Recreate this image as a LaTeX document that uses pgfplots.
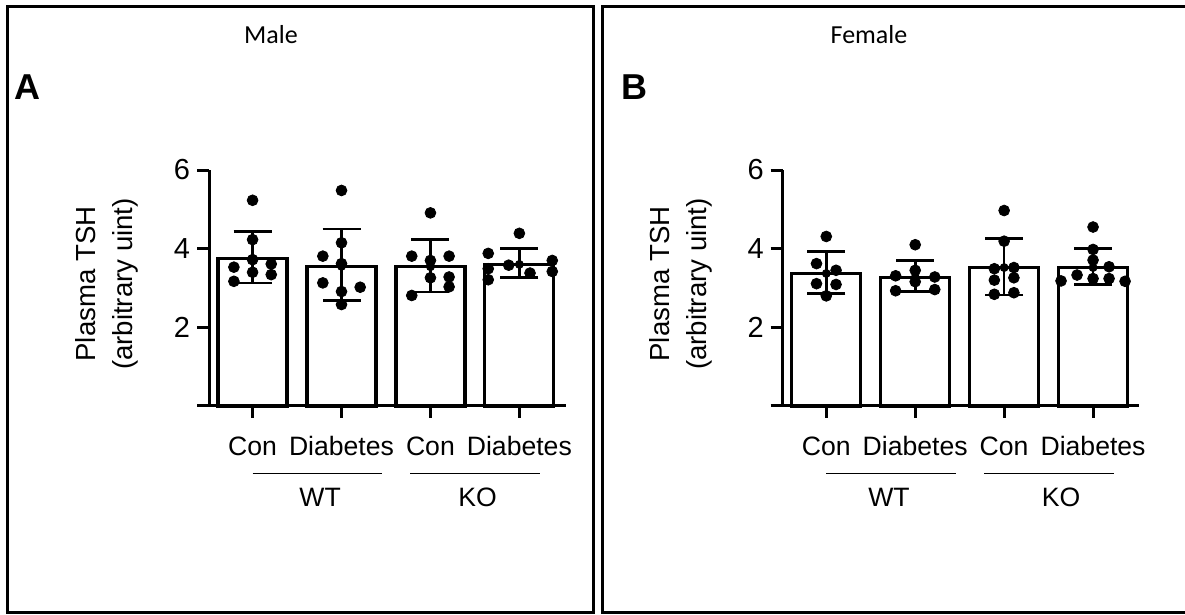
\documentclass[border=0pt]{standalone}
\usepackage{pgfplots}
\pgfplotsset{compat=1.18}
\usepackage{fontspec}
\setmainfont{Liberation Sans}
\newfontfamily\carlito{Carlito}
\begin{document}
\begin{tikzpicture}
\useasboundingbox (0,0) rectangle (592.5pt,307.5pt);
\pgfplotsset{
  tshaxis/.style={
    scale only axis, width=178.3pt, height=118pt,
    anchor=south west,
    xmin=-0.49, xmax=3.52, ymin=0, ymax=6,
    axis x line*=bottom, axis y line*=left,
    axis line style={line width=1.5pt, black},
    tick align=outside,
    major tick length=6pt,
    tick style={black, line width=1.5pt},
    ytick={0,2,4,6}, yticklabels={,2,4,6},
    xtick={0,1,2,3}, xticklabels={Con,Diabetes,Con,Diabetes},
    xticklabel style={font=\fontsize{13.3}{15}\selectfont, yshift=-5.5pt, text height=9.7pt, text depth=0pt},
    yticklabel style={font=\fontsize{14.5}{16}\selectfont},
    /pgf/number format/assume math mode=true,
    clip=false,
  },
  barst/.style={ybar, bar width=34.5pt, draw=black, fill=white, line width=1.6pt},
  errst/.style={only marks, mark=none, black,
    error bars/.cd, y dir=both, y explicit,
    error bar style={line width=1.3pt, black},
    error mark options={rotate=90, line width=1.3pt, mark size=9.5pt, black}},
  dotst/.style={only marks, mark=*, mark size=2.7pt, black},
}
% frames
\draw[line width=1.5pt] (3.75pt,1.25pt) rectangle (296.5pt,304pt);
\draw[line width=1.5pt] (301pt,1.25pt) rectangle (600pt,304pt);
\node[font=\carlito\fontsize{13}{15}\selectfont] at (135.5pt,290pt) {Male};
\node[font=\carlito\fontsize{13}{15}\selectfont] at (434.5pt,290pt) {Female};
\node[font=\bfseries\fontsize{18}{20}\selectfont, inner sep=0] at (13.75pt,263.75pt) {A};
\node[font=\bfseries\fontsize{18}{20}\selectfont, inner sep=0] at (317pt,263.75pt) {B};

% Panel A
\begin{axis}[tshaxis, at={(104.5pt,104.5pt)}]
\addplot[barst] coordinates {(0,3.75) (1,3.55) (2,3.54) (3,3.60)};
\addplot[errst] coordinates {
 (0,3.75) += (0,0.69) -= (0,0.62)
 (1,3.55) += (0,0.95) -= (0,0.87)
 (2,3.54) += (0,0.69) -= (0,0.64)
 (3,3.60) += (0,0.40) -= (0,0.33)};
\addplot[dotst] coordinates {
 (0,5.23) (0,4.23) (0,3.72) (-0.21,3.53) (0.21,3.61) (0,3.40) (0.21,3.34) (-0.21,3.17)
 (1,5.48) (1,4.15) (0.79,3.81) (1,3.62) (0.79,3.13) (1.21,3.02) (1,2.91) (1,2.58)
 (2,4.91) (1.79,3.81) (2.21,3.81) (2,3.70) (2,3.26) (2.21,3.28) (2.21,3.03) (1.79,2.81)
 (3,4.39) (2.65,3.88) (2.88,3.58) (3.37,3.70) (2.65,3.49) (3.12,3.38) (3.37,3.42) (2.65,3.21)};
\draw[line width=0.6pt] (axis cs:0,-1.71) -- (axis cs:1.456,-1.71);
\draw[line width=0.6pt] (axis cs:1.774,-1.71) -- (axis cs:3.236,-1.71);
\node[inner sep=0, font=\fontsize{13.3}{15}\selectfont] at (axis cs:0.76,-2.33) {WT};
\node[inner sep=0, font=\fontsize{13.3}{15}\selectfont] at (axis cs:2.53,-2.33) {KO};
\node[rotate=90, align=center, inner sep=0, font=\fontsize{13.8}{16}\selectfont] at ([xshift=-51pt,yshift=2pt]rel axis cs:0,0.5) {Plasma TSH\\[2.5pt](arbitrary uint)};
\end{axis}

% Panel B
\begin{axis}[tshaxis, at={(391.35pt,104.5pt)}]
\addplot[barst] coordinates {(0,3.37) (1,3.27) (2,3.52) (3,3.52)};
\addplot[errst] coordinates {
 (0,3.37) += (0,0.56) -= (0,0.51)
 (1,3.27) += (0,0.43) -= (0,0.36)
 (2,3.52) += (0,0.74) -= (0,0.70)
 (3,3.52) += (0,0.49) -= (0,0.43)};
\addplot[dotst] coordinates {
 (0,4.31) (-0.11,3.62) (0.11,3.45) (-0.11,3.11) (0.11,3.09) (0,2.80)
 (1,4.10) (1,3.45) (0.78,3.31) (1.22,3.28) (1,3.16) (0.78,2.93) (1.22,2.96)
 (2,4.97) (2,4.19) (1.89,3.49) (2.11,3.52) (1.89,3.20) (2.11,3.26) (1.89,2.84) (2.11,2.88)
 (3,4.55) (3,3.98) (3,3.71) (3.18,3.54) (2.82,3.33) (3,3.24) (3.18,3.24) (2.64,3.18) (3.36,3.17)};
\draw[line width=0.6pt] (axis cs:0,-1.71) -- (axis cs:1.456,-1.71);
\draw[line width=0.6pt] (axis cs:1.774,-1.71) -- (axis cs:3.236,-1.71);
\node[inner sep=0, font=\fontsize{13.3}{15}\selectfont] at (axis cs:0.705,-2.33) {WT};
\node[inner sep=0, font=\fontsize{13.3}{15}\selectfont] at (axis cs:2.64,-2.33) {KO};
\node[rotate=90, align=center, inner sep=0, font=\fontsize{13.8}{16}\selectfont] at ([xshift=-51pt,yshift=2pt]rel axis cs:0,0.5) {Plasma TSH\\[2.5pt](arbitrary uint)};
\end{axis}
\end{tikzpicture}
\end{document}
